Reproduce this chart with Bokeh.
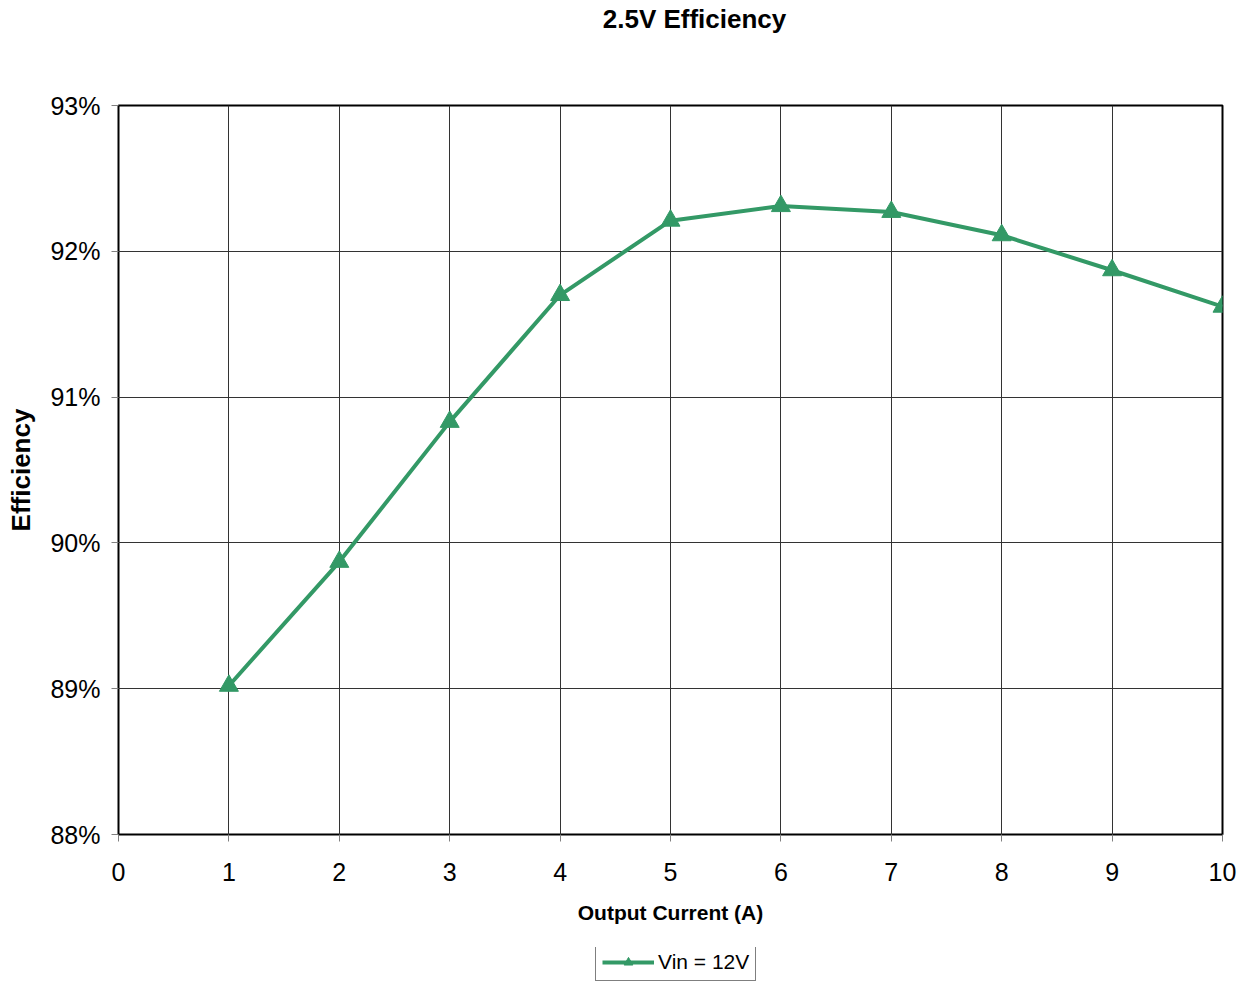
from bokeh.plotting import figure
from bokeh.layouts import column
from bokeh.models import Legend, LegendItem, FixedTicker, PrintfTickFormatter, Range1d, Label
from bokeh.embed import file_html
from bokeh.resources import INLINE

# data
current_a = [1, 2, 3, 4, 5, 6, 7, 8, 9, 10]
efficiency_pct = [89.02, 89.87, 90.83, 91.70, 92.21, 92.31, 92.27, 92.11, 91.87, 91.62]
series_name = "Vin = 12V"
chart_title = "2.5V Efficiency"
x_ticks = [0, 1, 2, 3, 4, 5, 6, 7, 8, 9, 10]
y_ticks = [88, 89, 90, 91, 92, 93]

GREEN = "#339966"
FONT = "Liberation Sans"
W = 1243

# title strip
tf = figure(width=W, height=35, output_backend="svg", toolbar_location=None,
            x_axis_type=None, y_axis_type=None, min_border=0)
tf.outline_line_color = None
tf.grid.visible = False
tf.add_layout(Label(x=576, y=17, x_units="screen", y_units="screen", text=chart_title,
                    text_align="center", text_baseline="middle",
                    text_font=FONT, text_font_size="26px", text_font_style="bold",
                    text_color="black"))

p = figure(width=W, height=912, output_backend="svg", toolbar_location=None,
           x_range=Range1d(0, 10), y_range=Range1d(88, 93),
           min_border_left=118, min_border_right=21, min_border_top=70, min_border_bottom=113)

p.outline_line_color = "black"
p.outline_line_width = 2
p.outline_line_alpha = 1

for ax in (p.xaxis[0], p.yaxis[0]):
    ax.axis_line_color = None
    ax.major_tick_line_color = "#808080"
    ax.major_tick_out = 7
    ax.major_tick_in = 0
    ax.minor_tick_line_color = None
    ax.major_label_text_font = FONT
    ax.major_label_text_font_size = "25px"
    ax.major_label_text_color = "black"
    ax.axis_label_text_font = FONT
    ax.axis_label_text_font_style = "bold"
    ax.axis_label_text_color = "black"

p.xaxis.axis_label_text_font_size = "21px"
p.yaxis.axis_label_text_font_size = "26px"
p.xaxis.ticker = FixedTicker(ticks=x_ticks)
p.yaxis.ticker = FixedTicker(ticks=y_ticks)
p.yaxis.formatter = PrintfTickFormatter(format="%d%%")
p.xaxis.axis_label = "Output Current (A)"
p.yaxis.axis_label = "Efficiency"
p.xaxis.major_label_standoff = 21
p.yaxis.major_label_standoff = 11
p.xaxis.axis_label_standoff = 17
p.yaxis.axis_label_standoff = 11

p.xgrid.ticker = FixedTicker(ticks=x_ticks)
p.ygrid.ticker = FixedTicker(ticks=y_ticks)
p.grid.grid_line_color = "#333333"
p.grid.grid_line_width = 1

ln = p.line(current_a, efficiency_pct, line_color=GREEN, line_width=4)
mk = p.scatter(current_a, efficiency_pct, marker="triangle", size=19,
               fill_color=GREEN, line_color=GREEN)

# legend strip below the chart (same series, drawn out of view; only the legend shows)
lf = figure(width=W, height=34, output_backend="svg", toolbar_location=None,
            x_range=Range1d(-100, -99), y_range=Range1d(0, 1),
            x_axis_type=None, y_axis_type=None, min_border=0)
lf.outline_line_color = None
lf.grid.visible = False
lln = lf.line(current_a, efficiency_pct, line_color=GREEN, line_width=4)
lmk = lf.scatter(current_a, efficiency_pct, marker="triangle", size=15,
                 fill_color=GREEN, line_color=GREEN)
legend = Legend(items=[LegendItem(label=series_name, renderers=[lln, lmk])],
                location=(477, 0), orientation="horizontal",
                label_text_font=FONT, label_text_font_size="21px",
                label_text_color="black",
                glyph_width=52, glyph_height=22,
                border_line_color="black", border_line_width=1,
                padding=6, spacing=0, margin=0, label_standoff=4)
lf.add_layout(legend, "center")

open("out.html", "w").write(file_html(column(tf, p, lf), INLINE))
